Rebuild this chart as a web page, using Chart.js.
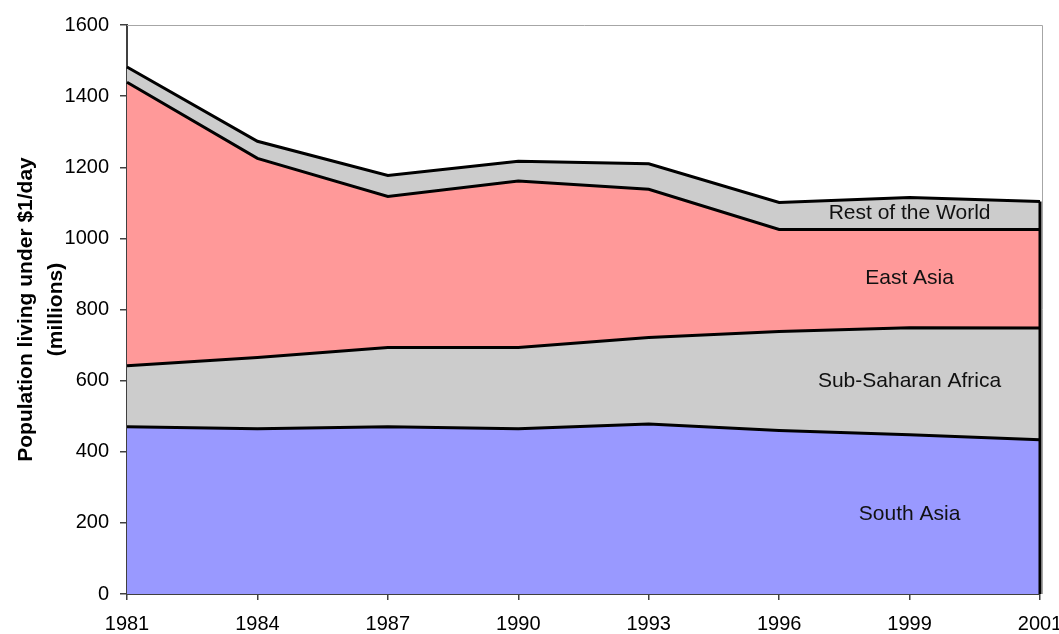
<!DOCTYPE html>
<html>
<head>
<meta charset="utf-8">
<script src="https://cdn.jsdelivr.net/npm/chart.js@4.4.1/dist/chart.umd.min.js"></script>
<style>
  html, body { margin: 0; padding: 0; background: #ffffff; }
  #wrap { width: 1059px; height: 634px; }
</style>
</head>
<body>
<div id="wrap"><canvas id="c" width="1059" height="634"></canvas></div>
<script>
// ---- data (millions of people living under $1/day) ----
const years = ['1981', '1984', '1987', '1990', '1993', '1996', '1999', '2001'];
const southAsia        = [470, 465, 470, 465, 478, 460, 448, 434];
const subSaharanAfrica = [172, 200, 223, 228, 243, 278, 301, 314];
const eastAsia         = [797, 560, 425, 468, 417, 287, 276, 277];
const restOfWorld      = [43, 48, 59, 56, 72, 76, 90, 79];
const seriesNames = ['South Asia', 'Sub-Saharan Africa', 'East Asia', 'Rest of the World'];
const yTicks = [0, 200, 400, 600, 800, 1000, 1200, 1400, 1600];
const yTitle = ['Population living under $1/day', '(millions)'];
const labelIndex = 6; // band labels placed at the 1999 category

const FONT = "'Liberation Sans', Arial, sans-serif";

const extras = {
  id: 'extras',
  beforeDatasetsDraw(chart) {
    const { ctx, chartArea: a } = chart;
    ctx.save();
    ctx.strokeStyle = '#a6a6a6';
    ctx.lineWidth = 1;
    ctx.beginPath();
    ctx.moveTo(a.left, a.top + 0.5);
    ctx.lineTo(a.right + 2.5, a.top + 0.5);
    ctx.lineTo(a.right + 2.5, a.bottom);
    ctx.stroke();
    ctx.restore();
  },
  afterDatasetsDraw(chart) {
    const { ctx } = chart;
    const xs = chart.scales.x, ys = chart.scales.y;
    const n = years.length - 1;
    const stacks = [southAsia, subSaharanAfrica, eastAsia, restOfWorld];
    let total = 0;
    stacks.forEach(s => total += s[n]);
    ctx.save();
    ctx.strokeStyle = '#000';
    ctx.lineWidth = 3;
    ctx.beginPath();
    const xr = xs.getPixelForValue(n);
    ctx.moveTo(xr, ys.getPixelForValue(0));
    ctx.lineTo(xr, ys.getPixelForValue(total));
    ctx.stroke();
    ctx.fillStyle = '#111';
    ctx.font = '21px ' + FONT;
    ctx.textAlign = 'center';
    ctx.textBaseline = 'middle';
    let base = 0;
    const x = xs.getPixelForValue(labelIndex);
    stacks.forEach((s, i) => {
      const v = s[labelIndex];
      const mid = base + v / 2;
      ctx.fillText(seriesNames[i], x, ys.getPixelForValue(mid));
      base += v;
    });
    ctx.restore();
  }
};

function ds(label, data, color, fill) {
  return {
    label, data,
    backgroundColor: color,
    borderColor: '#000',
    borderWidth: 3,
    pointRadius: 0,
    pointHoverRadius: 0,
    tension: 0,
    fill
  };
}

new Chart(document.getElementById('c'), {
  type: 'line',
  data: {
    labels: years,
    datasets: [
      ds(seriesNames[0], southAsia, '#9999ff', 'origin'),
      ds(seriesNames[1], subSaharanAfrica, '#cccccc', '-1'),
      ds(seriesNames[2], eastAsia, '#ff9999', '-1'),
      ds(seriesNames[3], restOfWorld, '#cccccc', '-1')
    ]
  },
  options: {
    responsive: false,
    devicePixelRatio: 1,
    animation: false,
    events: [],
    layout: { padding: { top: 25, right: 0, bottom: 0, left: 0 } },
    plugins: {
      legend: { display: false },
      tooltip: { enabled: false },
      title: { display: false }
    },
    scales: {
      x: {
        type: 'category',
        offset: false,
        grid: { drawOnChartArea: false, drawTicks: true, tickLength: 6, color: '#404040', lineWidth: 1.5 },
        border: { display: true, color: '#404040', width: 2 },
        ticks: {
          color: '#000', font: { family: FONT, size: 20 }, padding: 12,
          maxRotation: 0, minRotation: 0, autoSkip: false
        },
        afterFit(scale) {
          scale.height = 40;
          scale.paddingRight = 19;
          scale.paddingLeft = 0;
        }
      },
      y: {
        stacked: true,
        min: 0, max: 1600,
        afterBuildTicks(scale) { scale.ticks = yTicks.map(v => ({ value: v })); },
        grid: { drawOnChartArea: false, drawTicks: true, tickLength: 7, color: '#404040', lineWidth: 1.5 },
        border: { display: true, color: '#404040', width: 2 },
        ticks: {
          color: '#000', font: { family: FONT, size: 20 }, padding: 11,
          callback: (v) => String(v)
        },
        title: {
          display: true,
          text: yTitle,
          color: '#000',
          font: { family: FONT, size: 21, weight: 'bold', lineHeight: 1.4 },
          padding: { top: 12, bottom: 0 }
        },
        afterFit(scale) { scale.width = 127; }
      }
    }
  },
  plugins: [extras]
});
</script>
</body>
</html>
